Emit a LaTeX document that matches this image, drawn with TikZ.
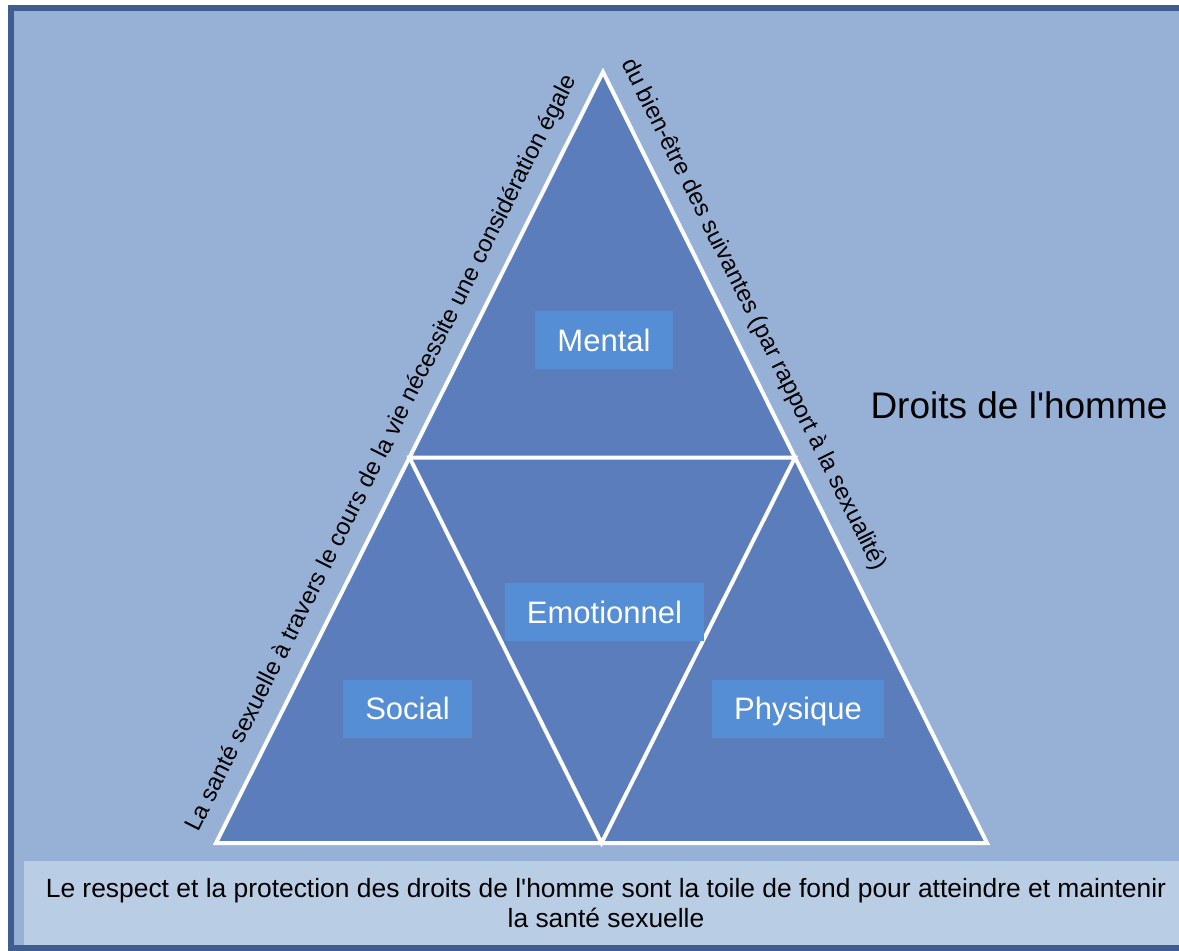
\documentclass[tikz,border=0pt]{standalone}
\usepackage{fontspec}
\setmainfont{Liberation Sans}
\usetikzlibrary{calc}
\definecolor{framedark}{HTML}{405D8F}
\definecolor{paleblue}{HTML}{97B1D6}
\definecolor{triblue}{HTML}{5B7DBB}
\definecolor{tagblue}{HTML}{558ED5}
\definecolor{notebox}{HTML}{B9CDE5}

\begin{document}
\begin{tikzpicture}[x=1pt, y=-1pt,
    tag/.style={fill=tagblue, text=white, inner xsep=22pt, minimum height=58pt,
        text depth=0pt, font=\fontsize{31}{37}\selectfont},
    sidenote/.style={font=\fontsize{24}{28}\selectfont, sloped, above=13pt, inner sep=2pt},
    whiteline/.style={draw=white, line width=4pt, line join=miter}]
    \useasboundingbox (0, 0) rectangle (1179, 951);
    \clip (0, 0) rectangle (1179, 951);
    \fill [white] (0, 0) rectangle (1179, 951);
    \filldraw [fill=paleblue, draw=framedark, line width=6pt] (11, 8) rectangle (1200, 948);
    \fill [notebox] (24, 861) rectangle (1190, 945);
    \coordinate (top) at (603, 72);
    \coordinate (left) at (216, 843);
    \coordinate (right) at (987, 843);
    \coordinate (ml) at ($(top)!0.5!(left)$);
    \coordinate (mr) at ($(top)!0.5!(right)$);
    \coordinate (mb) at ($(left)!0.5!(right)$);
    \fill [triblue] (top) -- (left) -- (right) -- cycle;
    \draw [whiteline] (top) -- (left) -- (right) -- cycle;
    \draw [whiteline] (ml) -- (mr) -- (mb) -- cycle;
    \node [tag] (mental) at (604, 340) {Mental};
    \node [tag] (emo) at (604.5, 612) {Emotionnel};
    \node [tag] (social) at (407.5, 708.5) {Social};
    \node [tag] (phys) at (798, 708.5) {Physique};
    \path (left) -- (top) node [sidenote, pos=0.49] (lnote)
        {La santé sexuelle à travers le cours de la vie nécessite une considération égale};
    \path (top) -- (right) node [sidenote, pos=0.33] (rnote)
        {du bien-être des suivantes (par rapport à la sexualité)};
    \node [font=\fontsize{37}{44}\selectfont] (rights) at (1019, 405.5) {Droits de l\textquotesingle homme};
    \node [font=\fontsize{26.4}{29.5}\selectfont, align=center] (base) at (606, 903)
        {Le respect et la protection des droits de l\textquotesingle homme sont la toile de fond pour atteindre et maintenir\\la santé sexuelle};
\end{tikzpicture}
\end{document}
